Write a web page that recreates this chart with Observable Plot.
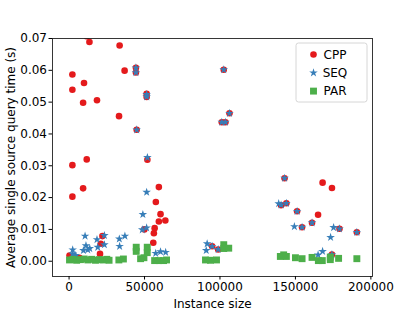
<!DOCTYPE html>
<html>
<head>
<meta charset="utf-8">
<script src="https://cdn.jsdelivr.net/npm/d3@7"></script>
<script src="https://cdn.jsdelivr.net/npm/@observablehq/plot@0.6"></script>
<style>
  html, body { margin: 0; padding: 0; background: #fff; }
  #chart svg { display: block; font-family: "DejaVu Sans", sans-serif; }
</style>
</head>
<body>
<div id="chart"></div>
<script>
// ---- data ----
const seriesNames = ["CPP", "SEQ", "PAR"];
const seriesColors = ["#e41a1c", "#377eb8", "#4daf4a"];
const xTicks = [0, 50000, 100000, 150000, 200000];
const yTicks = [0, 0.01, 0.02, 0.03, 0.04, 0.05, 0.06, 0.07];

const cppX = [11700, 13500, 33500, 2200, 9900, 2200, 36800, 44300, 44300, 9300, 18500, 51400, 51400, 33100, 44800,
  2200, 11700, 51900, 9300, 2200, 59500, 57500, 60600, 63800, 59500, 49900, 56700, 56200, 55800, 22100, 21000, 20500,
  300, 3600, 6900, 102500, 106300, 101200, 103600, 94800, 98800, 142800, 168000, 174200, 140500, 144000, 151100,
  165000, 161000, 154400, 179200, 190700, 174200];
const cppY = [0.0707, 0.0689, 0.0678, 0.0587, 0.0560, 0.0539, 0.0599, 0.0608, 0.0593, 0.0498, 0.0506, 0.0526, 0.0516, 0.0456, 0.0413,
  0.0302, 0.0320, 0.0319, 0.0229, 0.0203, 0.0233, 0.0186, 0.0148, 0.0128, 0.0125, 0.0100, 0.0104, 0.0088, 0.0058, 0.0079, 0.0055, 0.0023,
  0.0018, 0.0015, 0.0011, 0.0602, 0.0465, 0.0437, 0.0437, 0.0047, 0.0037, 0.0261, 0.0247, 0.0230, 0.0176, 0.0182, 0.0157,
  0.0146, 0.0121, 0.0107, 0.0102, 0.0091, 0.0021];

const seqX = [44300, 44300, 51400, 51400, 44800, 51900, 51400, 48900, 48500, 51400,
  102500, 106300, 101200, 103600, 91500, 90900, 94800, 98800,
  138900, 142800, 144000, 140500, 151100, 161000, 149300, 154400, 175300, 179200, 190700, 173300, 168000, 165000, 174200,
  2400, 2400, 10600, 11200, 9500, 12400, 13700, 18500, 23400, 19000, 23400, 33300, 37000, 33500, 57400, 60600, 64000, 4400];
const seqY = [0.0608, 0.0593, 0.0524, 0.0517, 0.0413, 0.0326, 0.0217, 0.0147, 0.0099, 0.0105,
  0.0602, 0.0465, 0.0437, 0.0437, 0.0055, 0.0034, 0.0047, 0.0037,
  0.0181, 0.0261, 0.0182, 0.0177, 0.0157, 0.0121, 0.0109, 0.0107, 0.0106, 0.0102, 0.0091, 0.0075, 0.0031, 0.0020, 0.0021,
  0.0036, 0.0023, 0.0079, 0.0049, 0.0034, 0.0036, 0.0040, 0.0068, 0.0081, 0.0044, 0.0052, 0.0070, 0.0079, 0.0047, 0.0025, 0.0030, 0.0028, 0.0018];

const parX = [300, 2500, 5000, 7500, 10000, 12500, 15000, 17500, 20000, 22500, 25000, 26500,
  33000, 36000, 44500, 44500, 51800, 51800, 49600, 47400, 56700, 59500, 62600, 64600,
  90400, 93700, 97700, 102500, 102500, 105800,
  142200, 140000, 144000, 150000, 154400, 161000, 165200, 167800, 173100, 173100, 178600, 190700];
const parY = [0.0004, 0.0006, 0.0003, 0.0005, 0.0007, 0.0004, 0.0006, 0.0003, 0.0005, 0.0004, 0.0006, 0.0003,
  0.0004, 0.0007, 0.0044, 0.0031, 0.0044, 0.0027, 0.0011, 0.0008, 0.0002, 0.0002, 0.0002, 0.0004,
  0.0004, 0.0003, 0.0004, 0.0052, 0.0040, 0.0041,
  0.0020, 0.0015, 0.0015, 0.0011, 0.0008, 0.0012, 0.0002, 0.0002, 0.0005, 0.0013, 0.0009, 0.0008];

const toRows = (xs, ys) => xs.map((x, i) => ({x, y: ys[i]}));
const cpp = toRows(cppX, cppY);
const seq = toRows(seqX, seqY);
const par = toRows(parX, parY);

const W = 415, H = 311;
const mL = 52, mR = 43, mT = 38, mB = 35;
const fontSize = 12;
const radii = [3.3, 2.7, 3.9];

const plot = Plot.plot({
  width: W,
  height: H,
  marginLeft: mL,
  marginRight: mR,
  marginTop: mT,
  marginBottom: mB,
  style: {fontFamily: "DejaVu Sans, sans-serif", fontSize: fontSize + "px", background: "#fff", color: "#000"},
  x: {domain: [-10980, 201070]},
  y: {domain: [-0.0048, 0.07]},
  marks: [
    Plot.dot(cpp, {x: "x", y: "y", r: radii[0], fill: seriesColors[0], symbol: "circle", clip: true}),
    Plot.dot(seq, {x: "x", y: "y", r: radii[1], fill: seriesColors[1], symbol: "star", clip: true}),
    Plot.dot(par, {x: "x", y: "y", r: radii[2], fill: seriesColors[2], symbol: "square", clip: true}),
    Plot.frame({stroke: "#222", strokeWidth: 0.9}),
    Plot.axisX({ticks: xTicks, tickFormat: d3.format("d"), tickSize: 3.5, tickPadding: 2,
      label: "Instance size", labelAnchor: "center", labelArrow: "none", labelOffset: 31, fontSize: fontSize}),
    Plot.axisY({ticks: yTicks, tickFormat: d3.format(".2f"), tickSize: 3.5, tickPadding: 2,
      label: "Average single source query time (s)", labelAnchor: "center", labelArrow: "none", labelOffset: 46, fontSize: fontSize})
  ]
});

document.getElementById("chart").appendChild(plot);

// legend (matplotlib-style box, upper right)
const svg = d3.select(plot);
const lg = svg.append("g").attr("class", "legend");
const lx = 296, ly = 43, lw = 71, lh = 59;
lg.append("rect").attr("x", lx).attr("y", ly).attr("width", lw).attr("height", lh)
  .attr("rx", 2.5).attr("fill", "#fff").attr("fill-opacity", 0.8).attr("stroke", "#ccc").attr("stroke-width", 0.8);
const symbols = [d3.symbolCircle, d3.symbolStar, d3.symbolSquare];
seriesNames.forEach((name, i) => {
  const cy = 54.5 + i * 18.3;
  lg.append("path").attr("d", d3.symbol(symbols[i], Math.PI * radii[i] * radii[i])())
    .attr("transform", `translate(${313.5},${cy})`).attr("fill", seriesColors[i]);
  lg.append("text").attr("x", 335).attr("y", cy).attr("dy", "0.35em")
    .attr("font-size", fontSize).attr("fill", "#000").text(name);
});
</script>
</body>
</html>
